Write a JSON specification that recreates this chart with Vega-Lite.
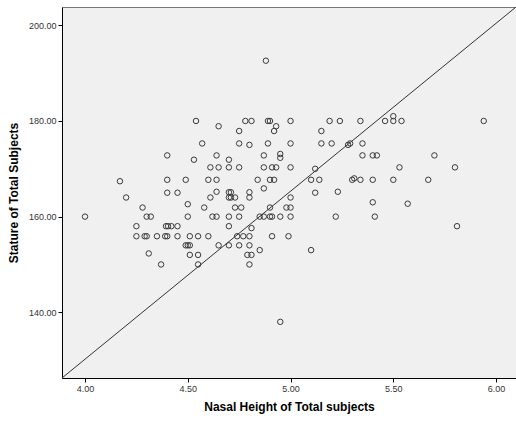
{
  "$schema": "https://vega.github.io/schema/vega-lite/v6.json",
  "width": 454,
  "height": 371,
  "autosize": "none",
  "padding": {"left": 62, "top": 7, "right": 0, "bottom": 46},
  "background": "white",
  "config": {
    "font": "Liberation Sans",
    "view": {"fill": "#f0f0f0", "stroke": "#777777", "strokeWidth": 1},
    "axis": {
      "grid": false,
      "domainColor": "#000000",
      "tickColor": "#000000",
      "tickSize": 4,
      "labelFontSize": 9,
      "labelColor": "#333333",
      "labelPadding": 2,
      "titleFontSize": 12,
      "titleFontWeight": "bold",
      "titleColor": "#000000"
    }
  },
  "datasets": {
    "pts": [
      {"nasal": 4.54, "stature": 180}, {"nasal": 4.78, "stature": 180}, {"nasal": 4.81, "stature": 180},
      {"nasal": 4.89, "stature": 180}, {"nasal": 4.90, "stature": 180}, {"nasal": 5.00, "stature": 180},
      {"nasal": 5.19, "stature": 180}, {"nasal": 5.24, "stature": 180}, {"nasal": 5.34, "stature": 180},
      {"nasal": 5.46, "stature": 180}, {"nasal": 5.50, "stature": 180}, {"nasal": 5.54, "stature": 180},
      {"nasal": 5.94, "stature": 180}, {"nasal": 5.50, "stature": 181},
      {"nasal": 4.65, "stature": 178.9}, {"nasal": 4.93, "stature": 178.9},
      {"nasal": 4.75, "stature": 177.9}, {"nasal": 4.92, "stature": 177.9}, {"nasal": 5.15, "stature": 177.9},
      {"nasal": 4.57, "stature": 175.3}, {"nasal": 4.75, "stature": 175.3}, {"nasal": 4.89, "stature": 175.3},
      {"nasal": 5.00, "stature": 175.3}, {"nasal": 5.15, "stature": 175.3}, {"nasal": 5.20, "stature": 175.3},
      {"nasal": 5.29, "stature": 175.3}, {"nasal": 5.35, "stature": 175.3},
      {"nasal": 4.80, "stature": 175.0}, {"nasal": 5.28, "stature": 175.0},
      {"nasal": 4.40, "stature": 172.8}, {"nasal": 4.64, "stature": 172.8}, {"nasal": 4.87, "stature": 172.8},
      {"nasal": 5.35, "stature": 172.8}, {"nasal": 5.40, "stature": 172.8}, {"nasal": 5.42, "stature": 172.8},
      {"nasal": 5.70, "stature": 172.8}, {"nasal": 4.95, "stature": 173.1}, {"nasal": 4.95, "stature": 172.3},
      {"nasal": 4.53, "stature": 171.9}, {"nasal": 4.70, "stature": 171.9},
      {"nasal": 4.61, "stature": 170.3}, {"nasal": 4.65, "stature": 170.3}, {"nasal": 4.70, "stature": 170.3},
      {"nasal": 4.75, "stature": 170.3}, {"nasal": 4.87, "stature": 170.3}, {"nasal": 4.91, "stature": 170.3},
      {"nasal": 4.93, "stature": 170.3}, {"nasal": 5.00, "stature": 170.3}, {"nasal": 5.53, "stature": 170.3},
      {"nasal": 5.80, "stature": 170.3}, {"nasal": 5.12, "stature": 170.0},
      {"nasal": 4.40, "stature": 167.7}, {"nasal": 4.49, "stature": 167.7}, {"nasal": 4.60, "stature": 167.7},
      {"nasal": 4.64, "stature": 167.7}, {"nasal": 4.84, "stature": 167.7}, {"nasal": 4.90, "stature": 167.7},
      {"nasal": 4.92, "stature": 167.7}, {"nasal": 5.10, "stature": 167.7}, {"nasal": 5.14, "stature": 167.7},
      {"nasal": 5.30, "stature": 167.7}, {"nasal": 5.34, "stature": 167.7}, {"nasal": 5.40, "stature": 167.7},
      {"nasal": 5.50, "stature": 167.7}, {"nasal": 5.67, "stature": 167.7}, {"nasal": 5.31, "stature": 168.0},
      {"nasal": 4.17, "stature": 167.4}, {"nasal": 4.87, "stature": 165.9},
      {"nasal": 4.40, "stature": 165.0}, {"nasal": 4.45, "stature": 165.0}, {"nasal": 5.12, "stature": 165.0},
      {"nasal": 4.64, "stature": 165.2}, {"nasal": 5.23, "stature": 165.2},
      {"nasal": 4.70, "stature": 165.1}, {"nasal": 4.71, "stature": 165.1}, {"nasal": 4.80, "stature": 165.1},
      {"nasal": 4.20, "stature": 164.0}, {"nasal": 4.61, "stature": 164.0}, {"nasal": 4.70, "stature": 164.0},
      {"nasal": 4.71, "stature": 164.0}, {"nasal": 4.73, "stature": 164.0}, {"nasal": 4.80, "stature": 164.0},
      {"nasal": 5.00, "stature": 164.0},
      {"nasal": 5.40, "stature": 163.0}, {"nasal": 5.57, "stature": 162.7}, {"nasal": 4.50, "stature": 162.6},
      {"nasal": 4.28, "stature": 161.9}, {"nasal": 4.58, "stature": 161.9}, {"nasal": 4.73, "stature": 161.9},
      {"nasal": 4.76, "stature": 161.9}, {"nasal": 4.90, "stature": 161.9}, {"nasal": 4.98, "stature": 161.9},
      {"nasal": 5.00, "stature": 161.9},
      {"nasal": 4.00, "stature": 160}, {"nasal": 4.30, "stature": 160}, {"nasal": 4.32, "stature": 160},
      {"nasal": 4.50, "stature": 160}, {"nasal": 4.62, "stature": 160}, {"nasal": 4.64, "stature": 160},
      {"nasal": 4.70, "stature": 160}, {"nasal": 4.75, "stature": 160}, {"nasal": 4.85, "stature": 160},
      {"nasal": 4.87, "stature": 160}, {"nasal": 4.90, "stature": 160}, {"nasal": 4.91, "stature": 160},
      {"nasal": 4.95, "stature": 160}, {"nasal": 5.00, "stature": 160}, {"nasal": 5.22, "stature": 160},
      {"nasal": 5.41, "stature": 160},
      {"nasal": 4.25, "stature": 158}, {"nasal": 4.394, "stature": 158}, {"nasal": 4.404, "stature": 158},
      {"nasal": 4.42, "stature": 158}, {"nasal": 4.45, "stature": 158}, {"nasal": 4.70, "stature": 158},
      {"nasal": 5.81, "stature": 158}, {"nasal": 4.81, "stature": 157.6},
      {"nasal": 4.25, "stature": 155.9}, {"nasal": 4.29, "stature": 155.9}, {"nasal": 4.30, "stature": 155.9},
      {"nasal": 4.35, "stature": 155.9}, {"nasal": 4.39, "stature": 155.9}, {"nasal": 4.40, "stature": 155.9},
      {"nasal": 4.45, "stature": 155.9}, {"nasal": 4.51, "stature": 155.9}, {"nasal": 4.55, "stature": 155.9},
      {"nasal": 4.60, "stature": 155.9}, {"nasal": 4.74, "stature": 155.9}, {"nasal": 4.77, "stature": 155.9},
      {"nasal": 4.80, "stature": 155.9}, {"nasal": 4.91, "stature": 155.9}, {"nasal": 4.99, "stature": 155.9},
      {"nasal": 4.49, "stature": 154}, {"nasal": 4.50, "stature": 154}, {"nasal": 4.51, "stature": 154},
      {"nasal": 4.65, "stature": 154}, {"nasal": 4.70, "stature": 154}, {"nasal": 4.75, "stature": 154},
      {"nasal": 4.80, "stature": 154},
      {"nasal": 4.85, "stature": 153}, {"nasal": 5.10, "stature": 153},
      {"nasal": 4.31, "stature": 152.3}, {"nasal": 4.51, "stature": 152}, {"nasal": 4.55, "stature": 152},
      {"nasal": 4.79, "stature": 152}, {"nasal": 4.81, "stature": 152},
      {"nasal": 4.37, "stature": 150}, {"nasal": 4.55, "stature": 150}, {"nasal": 4.80, "stature": 150},
      {"nasal": 4.95, "stature": 138}, {"nasal": 4.88, "stature": 192.6}
    ],
    "ref": [
      {"nasal": 3.888, "stature": 126.26},
      {"nasal": 6.097, "stature": 203.83}
    ]
  },
  "layer": [
    {
      "data": {"name": "ref"},
      "mark": {"type": "line", "color": "#333333", "strokeWidth": 1, "clip": true},
      "encoding": {
        "x": {"field": "nasal", "type": "quantitative", "scale": {"domain": [3.888, 6.097], "nice": false, "zero": false}},
        "y": {"field": "stature", "type": "quantitative", "scale": {"domain": [126.26, 203.83], "nice": false, "zero": false}}
      }
    },
    {
      "data": {"name": "pts"},
      "mark": {"type": "point", "shape": "circle", "filled": false, "size": 30, "stroke": "#3a3a3a", "strokeWidth": 1, "opacity": 1},
      "encoding": {
        "x": {
          "field": "nasal", "type": "quantitative",
          "scale": {"domain": [3.888, 6.097], "nice": false, "zero": false},
          "axis": {"values": [4, 4.5, 5, 5.5, 6], "format": ".2f", "title": "Nasal Height of Total subjects", "titlePadding": 8}
        },
        "y": {
          "field": "stature", "type": "quantitative",
          "scale": {"domain": [126.26, 203.83], "nice": false, "zero": false},
          "axis": {"values": [140, 160, 180, 200], "format": ".2f", "title": "Stature of Total Subjects", "titlePadding": 8}
        }
      }
    }
  ]
}
